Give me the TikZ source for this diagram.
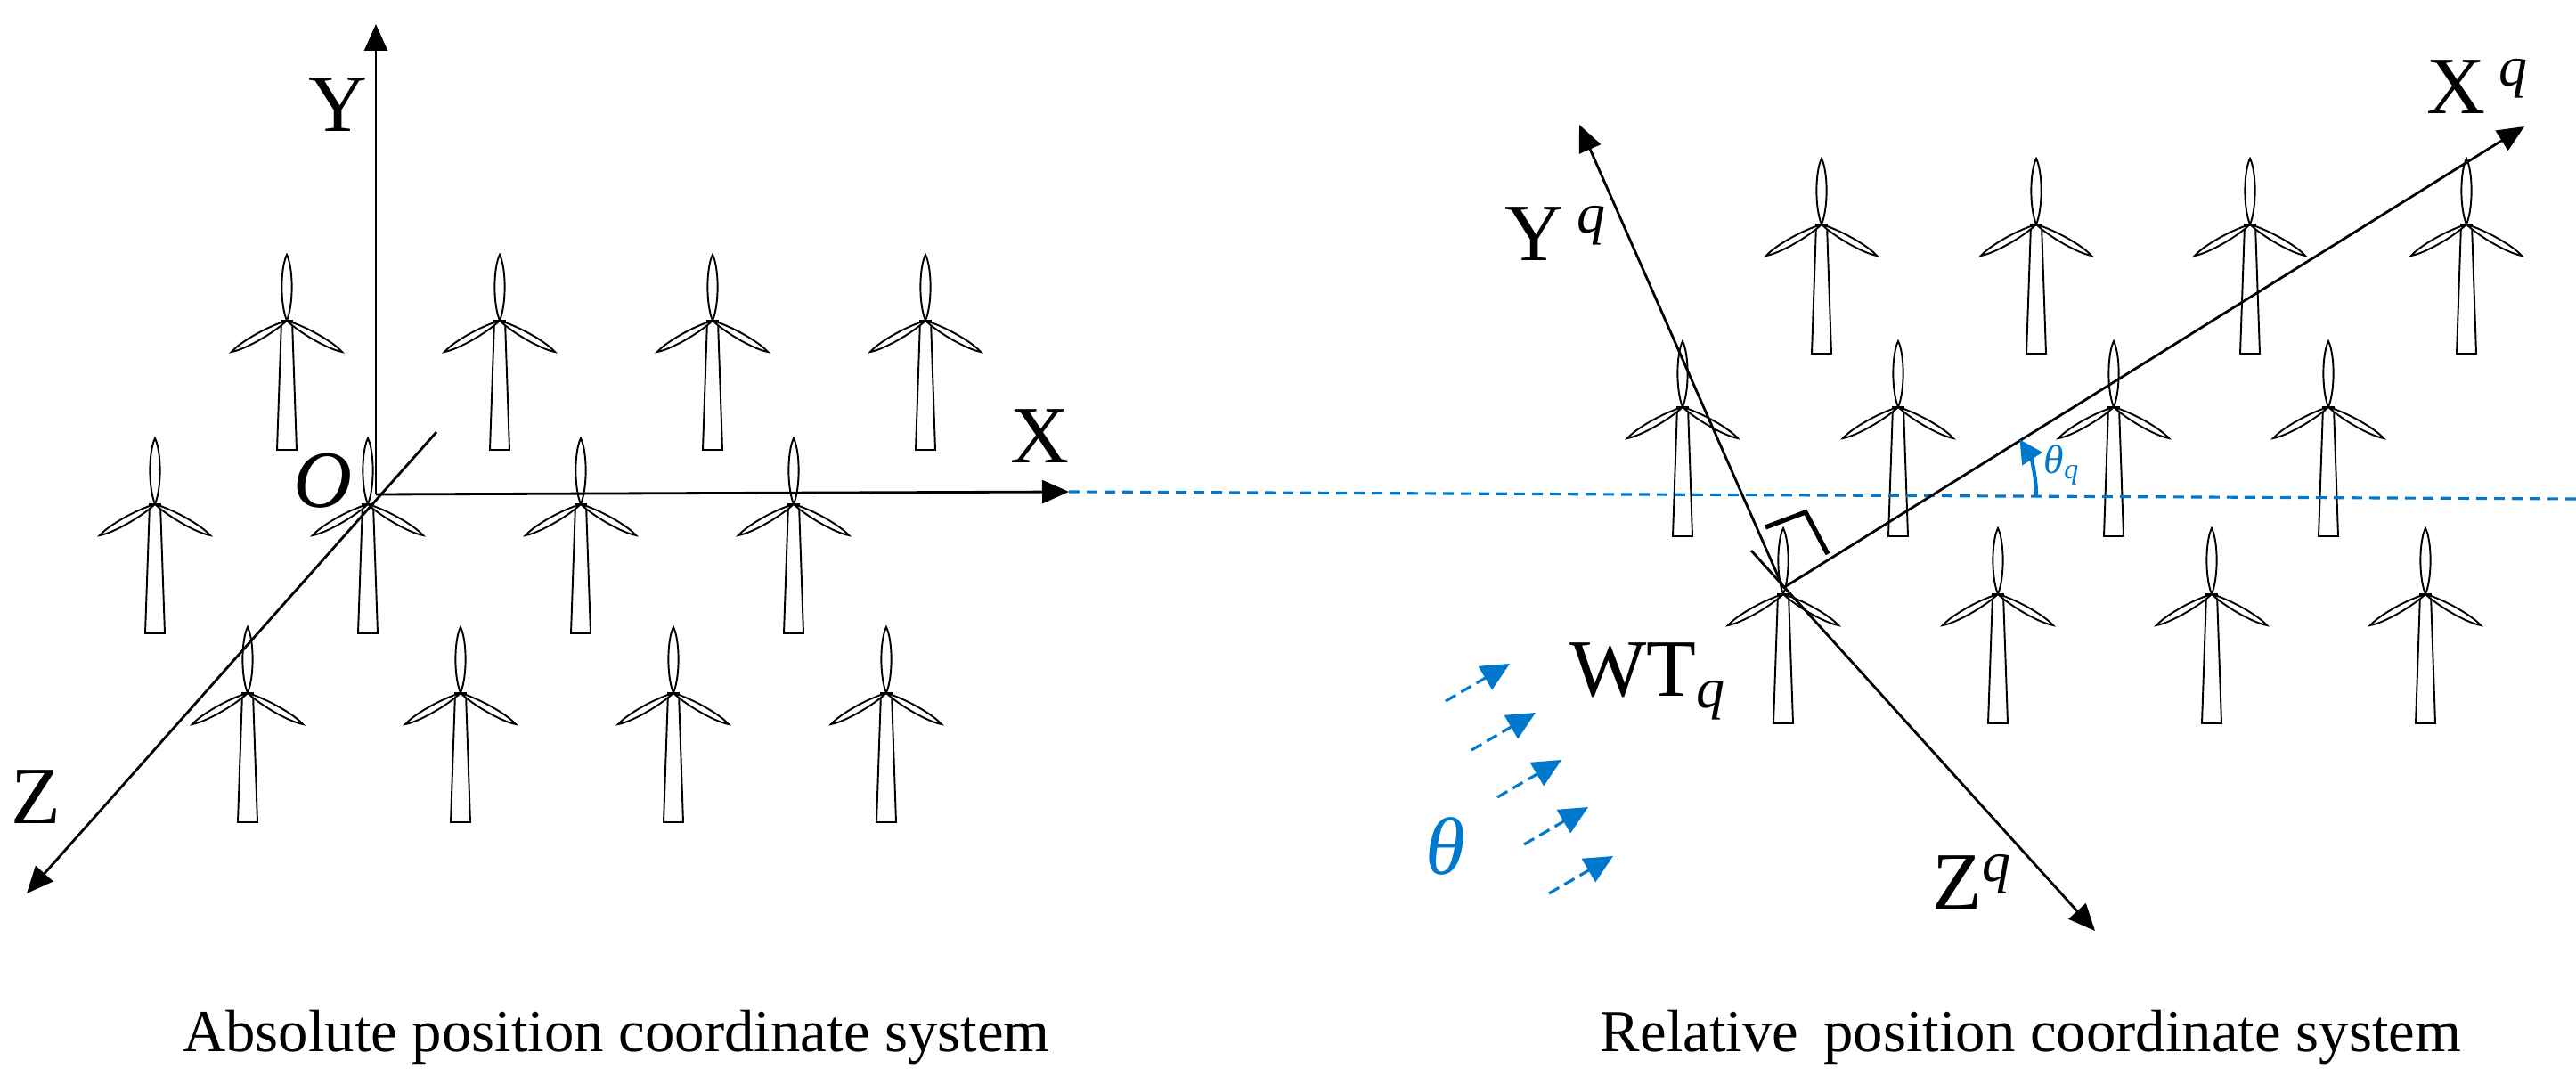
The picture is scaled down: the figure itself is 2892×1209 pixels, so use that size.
\documentclass[tikz,border=0pt]{standalone}
\usepackage{fontspec}
\setmainfont{Liberation Serif}
\usetikzlibrary{arrows.meta}
\definecolor{wblue}{RGB}{0,120,205}
\begin{document}
\begin{tikzpicture}[x=0.1mm,y=-0.1mm,
  tline/.style={line width=0.55pt,black},
  axis/.style={line width=0.8pt,-{Triangle[length=3mm,width=2.6mm]}},
  lab/.style={font=\fontsize{26}{30}\selectfont,inner sep=0pt},
  captxt/.style={font=\fontsize{19}{23}\selectfont,inner sep=0pt,anchor=base},
  wind/.style={wblue,line width=0.9pt,dash pattern=on 1.3mm off 0.7mm,-{Triangle[length=3.2mm,width=3mm]}},
  turbine/.pic={
    \draw[tline,fill=white] (-6,0)--(6,0)--(11,145)--(-11,145)--cycle;
    \draw[tline,fill=white] (0,0) .. controls (16.1,14.9) and (47.1,32.4) .. (62,35) .. controls (52.1,23.6) and (21.1,6.1) .. (0,0);
    \draw[tline,fill=white] (0,0) .. controls (-16.1,14.9) and (-47.1,32.4) .. (-62,35) .. controls (-52.1,23.6) and (-21.1,6.1) .. (0,0);
    \draw[tline,fill=white] (0,0) .. controls (-8,-20) and (-7,-60) .. (0,-74) .. controls (7,-60) and (8,-20) .. (0,0);
  }]
\useasboundingbox (0,0) rectangle (2892,1209);
% left turbines
\foreach \x in {322,561,800,1039} \pic at (\x,360) {turbine};
\foreach \x in {174,413,652,891} \pic at (\x,566) {turbine};
\foreach \x in {278,517,756,995} \pic at (\x,778) {turbine};
% right turbines
\foreach \x in {2045,2286,2526,2769} \pic at (\x,252) {turbine};
\foreach \x in {1889,2131,2373,2614} \pic at (\x,457) {turbine};
\foreach \x in {2002,2243,2483,2723} \pic at (\x,667) {turbine};
% left axes
\coordinate (O) at (422,555);
\coordinate (Ytip) at (422,27);
\coordinate (Xtip) at (1200,552);
\coordinate (Zbeg) at (490,485);
\coordinate (Ztip) at (30,1003);
\draw[axis] (O) -- (Ytip);
\draw[axis] (O) -- (Xtip);
\draw[axis] (Zbeg) -- (Ztip);
\node[lab] (Y) at (379,118) {Y};
\node[lab] (X) at (1167,490) {X};
\node[lab] (Z) at (40,895) {Z};
\node[lab] (Olab) at (362,540) {\textit{O}};
% dashed line
\coordinate (D1) at (1200,552);
\coordinate (D2) at (2892,560);
\draw[wblue,line width=0.9pt,dash pattern=on 1.2mm off 0.8mm] (D1) -- (D2);
% right axes
\coordinate (WT) at (2002,660);
\coordinate (XQtip) at (2834,142);
\coordinate (YQtip) at (1773,140);
\coordinate (ZQbeg) at (1966,618);
\coordinate (ZQtip) at (2352,1045);
\draw[axis] (WT) -- (XQtip);
\draw[axis] (WT) -- (YQtip);
\draw[axis] (ZQbeg) -- (ZQtip);
\draw[line width=1.5pt] (1982,592) -- (2027,575) -- (2052,622);
\node[lab] (XQ) at (2782,97) {X\,\textsuperscript{\textit{q}}};
\node[lab] (YQ) at (1747,262) {Y\,\textsuperscript{\textit{q}}};
\node[lab] (ZQ) at (2214,990) {Z\textsuperscript{\textit{q}}};
\node[lab] (WTQ) at (1850,765) {WT\textsubscript{\textit{q}}};
% theta_q arc
\coordinate (C) at (2171,556);
\draw[wblue,line width=1.2pt,-{Triangle[length=2.6mm,width=2.6mm]}] (2286,556) arc[start angle=0,end angle=-33,radius=115];
\node[wblue,font=\fontsize{13}{15}\selectfont,inner sep=0pt] (thq) at (2315,522) {\textit{θ}\textsubscript{\textit{q}}};
% wind arrows
\coordinate (w1a) at (1623,787); \coordinate (w1b) at (1695,745);
\coordinate (w2a) at (1652,842); \coordinate (w2b) at (1724,800);
\coordinate (w3a) at (1681,895); \coordinate (w3b) at (1753,853);
\coordinate (w4a) at (1711,948); \coordinate (w4b) at (1783,906);
\coordinate (w5a) at (1739,1003); \coordinate (w5b) at (1811,961);
\foreach \i in {1,...,5} \draw[wind] (w\i a) -- (w\i b);
\node[lab,wblue] (th) at (1623,950) {\textit{θ}};
% captions
\node[captxt] (c1) at (692,1180) {Absolute position coordinate system};
\node[captxt] (c2) at (2280,1180) {Relative\, position coordinate system};
\end{tikzpicture}
\end{document}
